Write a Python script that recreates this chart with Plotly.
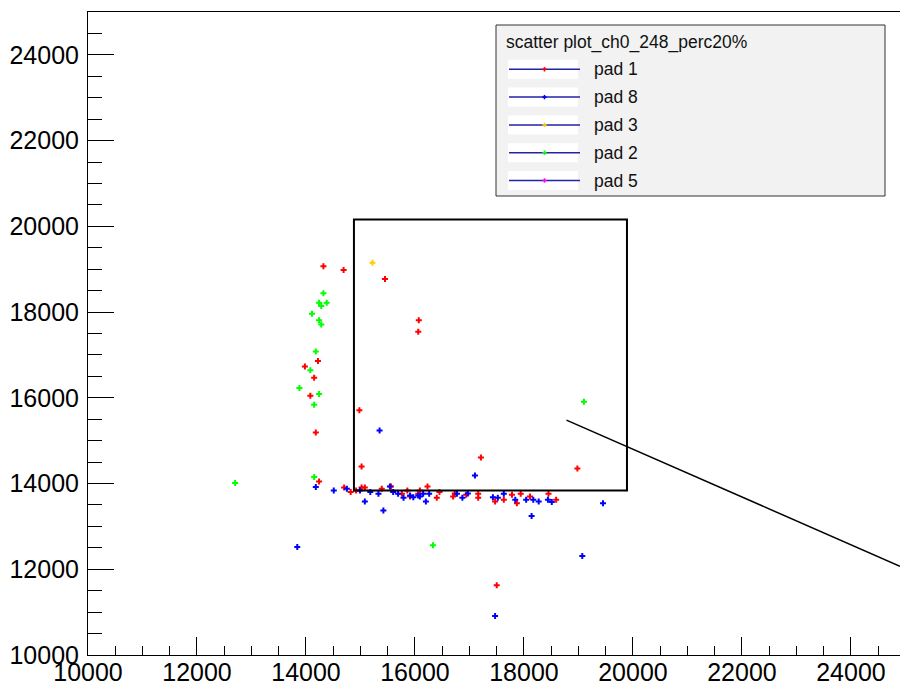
import plotly.graph_objects as go

# ---------------- data ----------------
pad1_x = [14320, 14690, 15450, 16070, 16060, 14220, 13980, 14150, 14080, 14180, 14980, 15020, 17210, 18980, 17500,
          14240, 14700, 14820, 14920, 15020, 15080, 15390, 15560, 15760, 15860, 15910, 16060, 16090, 16230, 16400,
          16450, 16700, 16730, 16940, 17160, 17160, 17470, 17630, 17780, 17870, 17940, 18110, 18450, 18590]
pad1_y = [19070, 18980, 18770, 17810, 17540, 16860, 16730, 16470, 16050, 15190, 15710, 14400, 14610, 14350, 11630,
          14050, 13910, 13800, 13840, 13910, 13910, 13880, 13930, 13760, 13840, 13700, 13760, 13840, 13930, 13670,
          13800, 13700, 13770, 13740, 13760, 13670, 13580, 13620, 13740, 13540, 13760, 13700, 13760, 13620]

pad8_x = [13840, 14180, 14510, 14750, 15080, 15420, 14990, 15180, 15330, 15540, 15600, 15690, 15790, 15910, 15970,
          16060, 16090, 16150, 16200, 16260, 16770, 16870, 16970, 17100, 17430, 17520, 17630, 17840, 18040, 18140,
          18170, 18270, 18440, 18510, 19070, 19450, 17470, 15350]
pad8_y = [12520, 13920, 13840, 13880, 13580, 13370, 13840, 13800, 13760, 13930, 13800, 13760, 13670, 13720, 13680,
          13720, 13700, 13760, 13580, 13760, 13760, 13670, 13770, 14190, 13680, 13670, 13760, 13620, 13620, 13240,
          13620, 13580, 13620, 13570, 12310, 13540, 10910, 15240]

pad3_x = [15220]
pad3_y = [19150]

pad2_x = [12700, 14150, 16330, 19100, 14320, 14240, 14380, 14280, 14110, 14240, 14280, 14180, 14080, 13880, 14240, 14150]
pad2_y = [14010, 14150, 12560, 15910, 18440, 18220, 18220, 18140, 17960, 17810, 17710, 17080, 16640, 16230, 16090, 15840]

pad5_x = []
pad5_y = []

series_names = ["pad 1", "pad 8", "pad 3", "pad 2", "pad 5"]
series_colors = ["#ff0000", "#0000ff", "#ffcc00", "#00ff00", "#ff00ff"]
series_x = [pad1_x, pad8_x, pad3_x, pad2_x, pad5_x]
series_y = [pad1_y, pad8_y, pad3_y, pad2_y, pad5_y]

legend_title = "scatter plot_ch0_248_perc20%"

x_range = [10000, 24900]
y_range = [10000, 25000]
box_x = [14880, 19890]
box_y = [13840, 20160]
line_x = [18780, 24900]
line_y = [15480, 12070]

# ---------------- figure ----------------
W, H = 900, 683
L, R, T, B = 88, 900, 12, 655

fig = go.Figure()
for name, xs, ys, col in zip(series_names, series_x, series_y, series_colors):
    fig.add_trace(go.Scatter(
        x=xs, y=ys, mode="markers", name=name, showlegend=False, cliponaxis=False,
        marker=dict(symbol="cross", size=5, color=col, line=dict(width=0)),
    ))

tickfont = dict(family="Liberation Sans, Arial, sans-serif", size=25, color="black")

fig.update_layout(
    width=W, height=H,
    margin=dict(l=0, r=0, t=0, b=0, autoexpand=False),
    paper_bgcolor="white", plot_bgcolor="white",
    showlegend=False,
    xaxis=dict(
        domain=[L / W, R / W], range=x_range, automargin=False,
        tick0=10000, dtick=2000, tickformat="d",
        ticks="inside", ticklen=18, tickwidth=1, tickcolor="black",
        minor=dict(ticks="inside", ticklen=9, dtick=500, tick0=10000, tickwidth=1, tickcolor="black", showgrid=False),
        showline=True, linecolor="black", linewidth=1, mirror=True,
        showgrid=False, zeroline=False, tickfont=tickfont, ticklabelstandoff=-5,
    ),
    yaxis=dict(
        domain=[1 - B / H, 1 - T / H], range=y_range, automargin=False,
        tick0=10000, dtick=2000, tickformat="d",
        ticks="inside", ticklen=26, tickwidth=1, tickcolor="black",
        minor=dict(ticks="inside", ticklen=14, dtick=500, tick0=10000, tickwidth=1, tickcolor="black", showgrid=False),
        showline=True, linecolor="black", linewidth=1,
        showgrid=False, zeroline=False, tickfont=tickfont, ticklabelstandoff=3,
    ),
)

shapes = []
# zoom box and line
shapes.append(dict(type="rect", xref="x", yref="y", x0=box_x[0], x1=box_x[1], y0=box_y[0], y1=box_y[1],
                   line=dict(color="black", width=2), fillcolor="rgba(0,0,0,0)"))
shapes.append(dict(type="line", xref="x", yref="y", x0=line_x[0], x1=line_x[1], y0=line_y[0], y1=line_y[1],
                   line=dict(color="black", width=1.5)))

# legend box (pixel positions -> paper)
def px(x):
    return x / W

def py(y):
    return 1 - y / H

shapes.append(dict(type="rect", xref="paper", yref="paper", x0=px(496), x1=px(885), y0=py(196), y1=py(25),
                   line=dict(color="#333333", width=1), fillcolor="#f2f2f2"))
annotations = [dict(xref="paper", yref="paper", x=px(504), y=py(42), xanchor="left", yanchor="middle",
                    text=legend_title, showarrow=False,
                    font=dict(family="Liberation Sans, Arial, sans-serif", size=17.5, color="#111111"))]
for i, (name, col) in enumerate(zip(series_names, series_colors)):
    ey = 69.3 + i * 27.8
    shapes.append(dict(type="rect", xref="paper", yref="paper", x0=px(508), x1=px(578), y0=py(ey + 9.5), y1=py(ey - 9.5),
                       line=dict(width=0), fillcolor="white"))
    shapes.append(dict(type="line", xref="paper", yref="paper", x0=px(509), x1=px(580), y0=py(ey), y1=py(ey),
                       line=dict(color="#2323a8", width=1.5)))
    shapes.append(dict(type="line", xref="paper", yref="paper", x0=px(542.3), x1=px(546.7), y0=py(ey), y1=py(ey),
                       line=dict(color=col, width=1.6)))
    shapes.append(dict(type="line", xref="paper", yref="paper", x0=px(544.5), x1=px(544.5), y0=py(ey + 2.2), y1=py(ey - 2.2),
                       line=dict(color=col, width=1.6)))
    annotations.append(dict(xref="paper", yref="paper", x=px(592), y=py(ey), xanchor="left", yanchor="middle",
                            text=name, showarrow=False,
                            font=dict(family="Liberation Sans, Arial, sans-serif", size=17.5, color="#111111")))

fig.update_layout(shapes=shapes, annotations=annotations)
fig.write_html("out.html")
